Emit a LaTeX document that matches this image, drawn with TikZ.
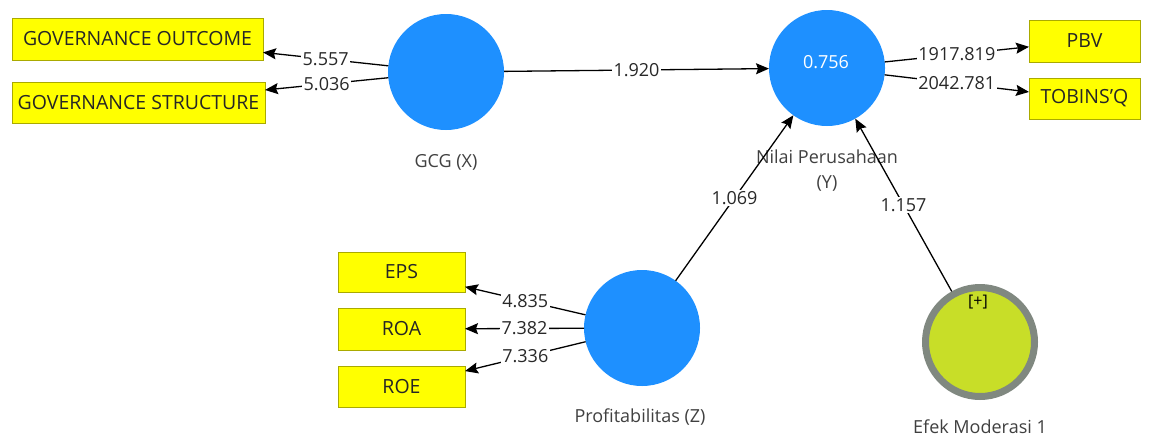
\documentclass[tikz,border=0pt]{standalone}
\usepackage{fontspec}
\setmainfont{Open Sans}
\usetikzlibrary{arrows.meta}
\definecolor{lvblue}{RGB}{30,144,255}
\definecolor{boxyel}{RGB}{255,255,0}
\definecolor{boxedge}{RGB}{170,170,0}
\definecolor{modfill}{RGB}{200,222,40}
\definecolor{modring}{RGB}{128,136,128}
\definecolor{nametext}{RGB}{64,64,64}
\definecolor{numtext}{RGB}{40,40,40}
\tikzset{
  lv/.style={circle,fill=lvblue,draw=none,minimum size=116pt,inner sep=0pt,outer sep=0pt},
  modlv/.style={circle,fill=modfill,draw=modring,line width=7pt,minimum size=109pt,inner sep=0pt},
  ind/.style={rectangle,fill=boxyel,draw=boxedge,line width=1pt,inner sep=0pt,outer sep=0pt,
    font=\fontsize{19.5}{23}\selectfont,text=black!85},
  lvname/.style={font=\fontsize{18}{25}\selectfont,text=nametext,align=center},
  lbl/.style={fill=white,inner sep=1.5pt,font=\fontsize{18}{22}\selectfont,text=numtext},
  conn/.style={line width=1.3pt,-{Stealth[length=13pt,width=11pt,inset=2pt]}}
}
\begin{document}
\begin{tikzpicture}[x=1pt,y=-1pt]
\useasboundingbox[fill=white] (0,0) rectangle (1150,439);
% latent variables
\node[lv] (gcg) at (446,72) {};
\node[lv] (nilai) at (827,68) {};
\node[lv] (prof) at (642,328) {};
\node[modlv] (efek) at (980,342) {};
\node[font=\fontsize{18}{22}\selectfont,text=white] (r2) at (826,62) {0.756};
\node[font=\fontsize{16}{20}\selectfont,text=black] (plus) at (978,302) {[+]};
% names
\node[lvname] (gcgname) at (446,162) {GCG (X)};
\node[lvname] (nilainame) at (827,171) {Nilai Perusahaan\\(Y)};
\node[lvname] (profname) at (640,417) {Profitabilitas (Z)};
\node[lvname] (efekname) at (980,427) {Efek Moderasi 1};
% indicators
\node[ind,minimum width=251pt,minimum height=42pt] (go) at (137.5,39) {GOVERNANCE OUTCOME};
\node[ind,minimum width=253pt,minimum height=41pt] (gs) at (138.5,102.5) {GOVERNANCE STRUCTURE};
\node[ind,minimum width=111pt,minimum height=42pt] (pbv) at (1084.5,41) {PBV};
\node[ind,minimum width=111pt,minimum height=41pt] (tq) at (1084.5,98.5) {TOBINS'Q};
\node[ind,minimum width=127pt,minimum height=40pt] (eps) at (401.5,272) {EPS};
\node[ind,minimum width=127pt,minimum height=42pt] (roa) at (401.5,329) {ROA};
\node[ind,minimum width=127pt,minimum height=41pt] (roe) at (401.5,386.5) {ROE};
% connectors
\draw[conn] (gcg) -- node[lbl,midway] {5.557} (go);
\draw[conn] (gcg) -- node[lbl,midway] {5.036} (gs);
\draw[conn] (nilai) -- node[lbl,midway] {1917.819} (pbv);
\draw[conn] (nilai) -- node[lbl,midway] {2042.781} (tq);
\draw[conn] (prof) -- node[lbl,midway] {4.835} (eps);
\draw[conn] (prof) -- node[lbl,midway] {7.382} (roa);
\draw[conn] (prof) -- node[lbl,midway] {7.336} (roe);
\draw[conn] (gcg) -- node[lbl,midway] {1.920} (nilai);
\draw[conn] (prof) -- node[lbl,midway] {1.069} (nilai);
\draw[conn] (efek) -- node[lbl,midway] {1.157} (nilai);
\end{tikzpicture}
\end{document}
